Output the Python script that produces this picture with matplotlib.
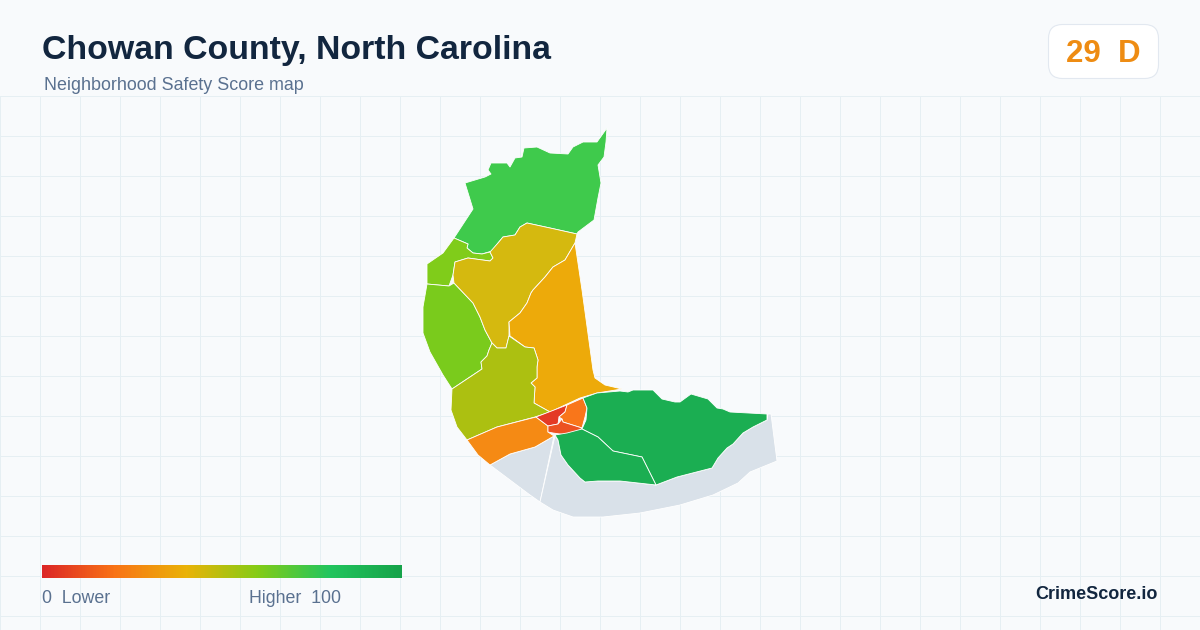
import numpy as np
from matplotlib import pyplot as plt
from matplotlib.colors import LinearSegmentedColormap
from matplotlib.patches import FancyBboxPatch, Polygon, Rectangle

title = "Chowan County, North Carolina"
subtitle = "Neighborhood Safety Score map"
score_label = "29  D"
brand = "CrimeScore.io"
legend_low = "0  Lower"
legend_high = "Higher  100"

# region outlines, in picture pixels
no_data_west = [(490, 465), (510, 454), (535, 447), (554, 436), (540, 502), (530, 495)]
no_data_south = [(555, 436), (558, 440), (561, 455), (568, 465), (580, 478), (585, 482), (598, 481),
                 (620, 481), (656, 485), (677, 477), (712, 468), (718, 458), (727, 448), (733, 444),
                 (743, 433), (753, 427), (767, 420), (768, 414), (771, 414), (777, 461), (750, 472),
                 (738, 483), (713, 495), (680, 505), (640, 513), (603, 517), (573, 517), (553, 510),
                 (540, 502)]
north = [(607, 128), (606, 142), (604, 157), (598, 165), (601, 183), (598, 198), (594, 220), (578, 232),
         (577, 234), (550, 228), (527, 223), (520, 227), (515, 235), (503, 237), (498, 243), (492, 251),
         (482, 254), (473, 253), (467, 248), (468, 244), (454, 238), (473, 209), (465, 183), (485, 177),
         (491, 174), (488, 170), (491, 163), (507, 163), (510, 167), (515, 158), (522, 157), (524, 148),
         (537, 147), (550, 153), (568, 154), (573, 147), (583, 142), (597, 142)]
northwest = [(454, 238), (468, 244), (467, 248), (473, 253), (482, 254), (490, 252), (493, 258), (490, 261),
             (468, 258), (455, 262), (453, 275), (449, 286), (427, 284), (427, 264), (443, 253)]
west = [(427, 284), (449, 286), (454, 283), (473, 303), (480, 317), (485, 330), (492, 343), (489, 350),
        (487, 356), (481, 362), (482, 369), (452, 389), (443, 375), (430, 352), (423, 333), (423, 307)]
central = [(577, 234), (575, 243), (565, 260), (553, 267), (545, 277), (533, 290), (531, 293), (527, 303),
           (520, 313), (509, 322), (509, 336), (506, 348), (497, 348), (492, 343), (485, 330), (480, 317),
           (473, 303), (454, 283), (453, 275), (455, 262), (468, 258), (490, 261), (493, 258), (490, 252),
           (498, 243), (503, 237), (515, 235), (520, 227), (527, 223), (550, 228)]
east_central = [(575, 243), (582, 290), (593, 370), (595, 378), (605, 385), (622, 389), (597, 393), (580, 398),
                (565, 405), (550, 412), (534, 403), (535, 387), (531, 383), (537, 378), (537, 367), (538, 360),
                (534, 348), (525, 347), (510, 336), (509, 322), (520, 313), (527, 303), (531, 293), (533, 290),
                (545, 277), (553, 267), (565, 260)]
southwest = [(509, 336), (506, 348), (497, 348), (492, 343), (489, 350), (487, 356), (481, 362), (482, 369),
             (452, 389), (451, 410), (457, 427), (467, 440), (497, 427), (535, 417), (550, 412), (534, 403),
             (535, 387), (531, 383), (537, 378), (537, 367), (538, 360), (534, 348), (525, 347)]
south_shore = [(467, 440), (497, 427), (536, 417), (548, 426), (548, 432), (554, 436), (535, 447), (510, 454),
               (490, 465), (478, 455)]
town_center = [(536, 417), (567, 405), (565, 412), (559, 417), (558, 424), (548, 426)]
town_east = [(567, 405), (583, 398), (587, 408), (585, 417), (582, 428), (563, 422), (562, 419), (559, 417),
             (565, 412)]
town_south = [(558, 424), (562, 419), (563, 422), (582, 428), (577, 433), (567, 435), (553, 433), (548, 432),
              (548, 426)]
east = [(583, 398), (597, 393), (620, 391), (628, 392), (633, 390), (653, 390), (662, 399), (675, 402),
        (680, 402), (691, 394), (708, 399), (717, 408), (723, 409), (730, 412), (767, 414), (767, 420),
        (753, 427), (743, 433), (733, 444), (727, 448), (718, 458), (712, 468), (677, 477), (656, 485),
        (642, 457), (613, 451), (598, 437), (582, 429), (586, 420), (587, 408)]
south = [(582, 429), (598, 437), (613, 451), (642, 457), (656, 485), (620, 481), (598, 481), (585, 482),
         (580, 478), (568, 465), (561, 455), (558, 440), (555, 435), (567, 433)]

regions = [no_data_west, no_data_south, north, northwest, west, central, east_central, southwest,
           south_shore, town_center, town_east, town_south, east, south]
region_colors = ["#d9e1e9", "#d9e1e9", "#3fca4c", "#80cc1a", "#7acb1c", "#d5b90f", "#edaa0a", "#acc011",
                 "#f58a14", "#e43a25", "#f9761a", "#ec5222", "#1bae52", "#1bae52"]

ramp_stops = [0, 0.2, 0.4, 0.6, 0.8, 1]
ramp_colors = ["#dc2626", "#f97316", "#eab308", "#84cc16", "#22c55e", "#16a34a"]

plt.rcParams['font.family'] = ['Liberation Sans', 'DejaVu Sans']

fig = plt.figure(figsize=(12, 6.3), dpi=100, facecolor="#f8fafc")
ax = fig.add_axes([0, 0, 1, 1])
ax.set_xlim(0, 1200)
ax.set_ylim(630, 0)
ax.axis("off")

# background grid, one pixel wide
for x in range(0, 1200, 40):
    ax.add_patch(Rectangle((x, 96), 1, 534, facecolor="#e6eff3", lw=0, zorder=1))
for y in range(96, 630, 40):
    ax.add_patch(Rectangle((0, y), 1200, 1, facecolor="#e6eff3", lw=0, zorder=1))

for outline, color in zip(regions, region_colors):
    ax.add_patch(Polygon(outline, closed=True, facecolor=color, edgecolor="white", lw=0.6,
                         joinstyle="round", zorder=2))

ax.text(42.5, 59, title, fontsize=24.4, fontweight="bold", color="#12263f", zorder=3)
ax.text(44, 90.5, subtitle, fontsize=12.9, color="#5a7190", zorder=3)

ax.add_patch(FancyBboxPatch((1062.5, 38.5), 82, 26, boxstyle="round,pad=14,rounding_size=14",
                            facecolor="white", edgecolor="#e2e8f0", lw=0.8, zorder=3))
ax.text(1103, 62, score_label, fontsize=22.5, fontweight="bold", color="#ee8c13", ha="center", zorder=4)

ramp = LinearSegmentedColormap.from_list("score", list(zip(ramp_stops, ramp_colors)))
ax.imshow(np.linspace(0, 1, 360).reshape(1, -1), cmap=ramp, extent=(42, 402, 578, 565), aspect="auto", zorder=3)
ax.set_xlim(0, 1200)
ax.set_ylim(630, 0)

ax.text(42, 603, legend_low, fontsize=12.8, color="#5a7190", zorder=3)
ax.text(249, 603, legend_high, fontsize=12.8, color="#5a7190", zorder=3)
ax.text(1158, 599, brand, fontsize=13, fontweight="bold", color="#12263f", ha="right", zorder=3)

fig.savefig("out.png", dpi=100, facecolor=fig.get_facecolor())
